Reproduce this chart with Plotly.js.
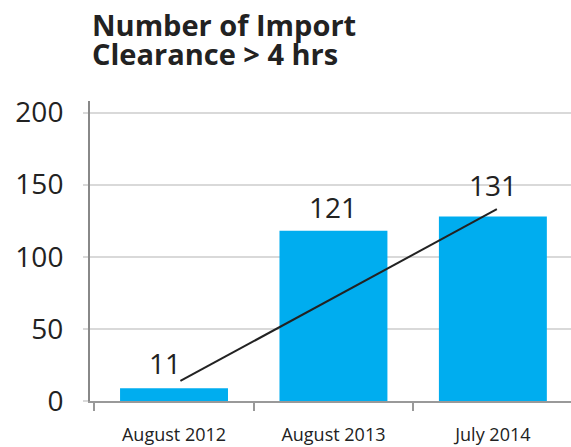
<!DOCTYPE html>
<html>
<head>
<meta charset="utf-8">
<script src="https://cdn.plot.ly/plotly-3.0.1.min.js"></script>
<style>html,body{margin:0;padding:0;background:#fff;}#chart{width:571px;height:447px;}</style>
</head>
<body>
<div id="chart"></div>
<script>
// Data
const categories = ["August 2012", "August 2013", "July 2014"];
const barValues = [8.8, 118, 128];
const labelTexts = ["11", "121", "131"];
const trendX = [0.04, 2.025];
const trendY = [13.9, 133];
const yTickVals = [0, 50, 100, 150, 200];
const titleLines = ["Number of Import", "Clearance > 4 hrs"];

const FONT = "Open Sans, Noto Sans, sans-serif";
const xRange = [-0.527, 2.49];

const traces = [
  {
    type: "bar",
    x: categories,
    y: barValues,
    width: 0.677,
    marker: {color: "#00adef"},
    hoverinfo: "none"
  },
  {
    type: "scatter",
    mode: "lines",
    x: trendX,
    y: trendY,
    xaxis: "x2",
    yaxis: "y",
    line: {color: "#222222", width: 2},
    hoverinfo: "none"
  }
];

const labelShiftX = [-9, 0, 0];
const labelShiftY = [4, 3, 10];
const annotations = categories.map((c, i) => ({
  x: c, y: barValues[i], xref: "x", yref: "y",
  text: labelTexts[i], showarrow: false,
  yanchor: "bottom", xanchor: "center",
  xshift: labelShiftX[i], yshift: labelShiftY[i],
  font: {family: FONT, size: 28, color: "#222222"}
}));

const titleY = [1.254, 1.157];
titleLines.forEach((t, i) => annotations.push({
  x: 0, y: titleY[i], xref: "paper", yref: "paper",
  xanchor: "left", yanchor: "middle", showarrow: false,
  text: "<b>" + t.replace(">", "&gt;") + "</b>",
  font: {family: FONT, size: 29, color: "#222222"}
}));

const layout = {
  width: 571, height: 447,
  margin: {l: 90, r: 0, t: 101, b: 46},
  paper_bgcolor: "#ffffff", plot_bgcolor: "#ffffff",
  showlegend: false,
  xaxis: {
    type: "category",
    range: xRange,
    showline: true, linecolor: "#999999", linewidth: 2,
    ticks: "outside", tickson: "boundaries", ticklen: 8, tickcolor: "#999999", tickwidth: 2,
    showgrid: false, zeroline: false,
    ticklabelstandoff: 16,
    tickfont: {family: FONT, size: 18, color: "#222222"},
    fixedrange: true
  },
  xaxis2: {
    overlaying: "x", range: xRange, visible: false, fixedrange: true
  },
  yaxis: {
    range: [0, 208],
    tickvals: yTickVals,
    showline: true, linecolor: "#888888", linewidth: 2,
    ticks: "outside", ticklen: 5, tickcolor: "#d9d9d9", tickwidth: 2,
    showgrid: true, gridcolor: "#d9d9d9", gridwidth: 2,
    zeroline: false,
    ticklabelstandoff: 14,
    tickfont: {family: FONT, size: 28, color: "#222222"},
    fixedrange: true
  },
  annotations: annotations
};

Plotly.newPlot("chart", traces, layout, {displayModeBar: false, staticPlot: true});
</script>
</body>
</html>
